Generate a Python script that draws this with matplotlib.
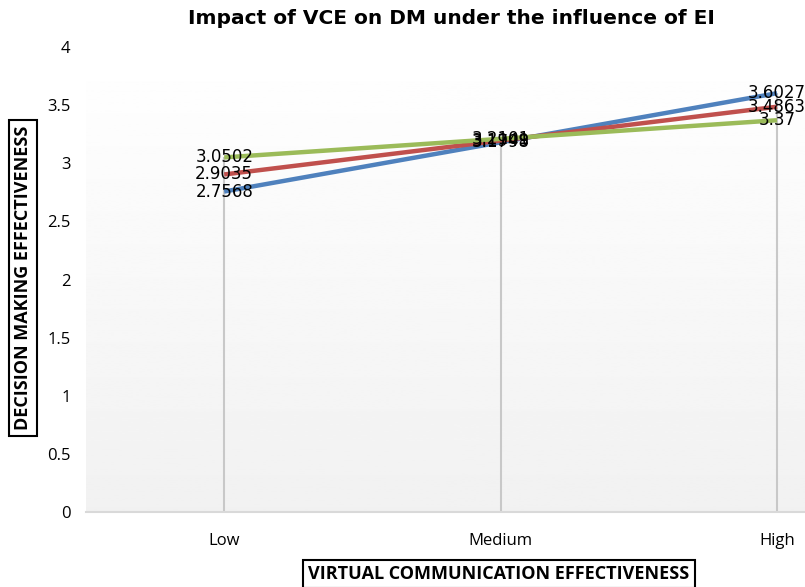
import numpy as np
import matplotlib.pyplot as plt

categories = ["Low", "Medium", "High"]
blue_vals = [2.7568, 3.1798, 3.6027]
red_vals = [2.9035, 3.1949, 3.4863]
green_vals = [3.0502, 3.2101, 3.37]
yticks = [0, 0.5, 1, 1.5, 2, 2.5, 3, 3.5, 4]
ytick_labels = ["0", "0.5", "1", "1.5", "2", "2.5", "3", "3.5", "4"]

colors = ["#4f81bd", "#c0504d", "#9bbb59"]

fig = plt.figure(figsize=(8.05, 5.87), dpi=100)
ax = fig.add_axes([86 / 805, 75 / 587, 1 - 86 / 805, 465 / 587])

# background gradient white -> light gray
grad = np.linspace(1.0, 0.945, 256).reshape(-1, 1)
ax.imshow(grad, cmap="gray", vmin=0, vmax=1, aspect="auto",
          extent=[0, 1, 0, 1], transform=ax.transAxes, zorder=0)

x = np.arange(len(categories))
series = [blue_vals, red_vals, green_vals]

# drop lines
tops = np.max(np.array(series), axis=0)
ax.vlines(x, 0, tops, color="#c8c8c8", lw=1.5, zorder=1)

for vals, c in zip(series, colors):
    ax.plot(x, vals, color=c, lw=3.2, solid_capstyle="butt", zorder=3)
    for xi, v in zip(x, vals):
        ax.text(xi, v, f"{v:g}", ha="center", va="center", fontsize=12,
                family="DejaVu Sans", color="black", zorder=4)

ax.set_xlim(-0.5, (805 - 224) / 276.5)
ax.set_ylim(0, 4)
ax.set_xticks(x)
ax.set_xticklabels(categories, family="Open Sans", fontsize=12)
ax.set_yticks(yticks)
ax.set_yticklabels(ytick_labels, family="Open Sans", fontsize=12)
ax.tick_params(axis="both", length=0)
ax.tick_params(axis="y", pad=11)
ax.tick_params(axis="x", pad=15)
for s in ["top", "right", "left"]:
    ax.spines[s].set_visible(False)
ax.spines["bottom"].set_color("#d9d9d9")
ax.spines["bottom"].set_linewidth(1.5)

fig.text(0.561, 0.969, "Impact of VCE on DM under the influence of EI",
         ha="center", va="center", fontsize=14.5, fontweight="bold",
         family="DejaVu Sans")

box = dict(boxstyle="square,pad=0.3", fc="white", ec="black", lw=1.5)
fig.text(23 / 805, 1 - 278 / 587, "DECISION MAKING EFFECTIVENESS", rotation=90,
         ha="center", va="center", fontsize=13, fontweight="bold",
         family="Open Sans", bbox=box)
fig.text(499 / 805, 1 - 574 / 587, "VIRTUAL COMMUNICATION EFFECTIVENESS",
         ha="center", va="center", fontsize=13, fontweight="bold",
         family="Open Sans", bbox=box)

fig.savefig("out.png", dpi=100)
